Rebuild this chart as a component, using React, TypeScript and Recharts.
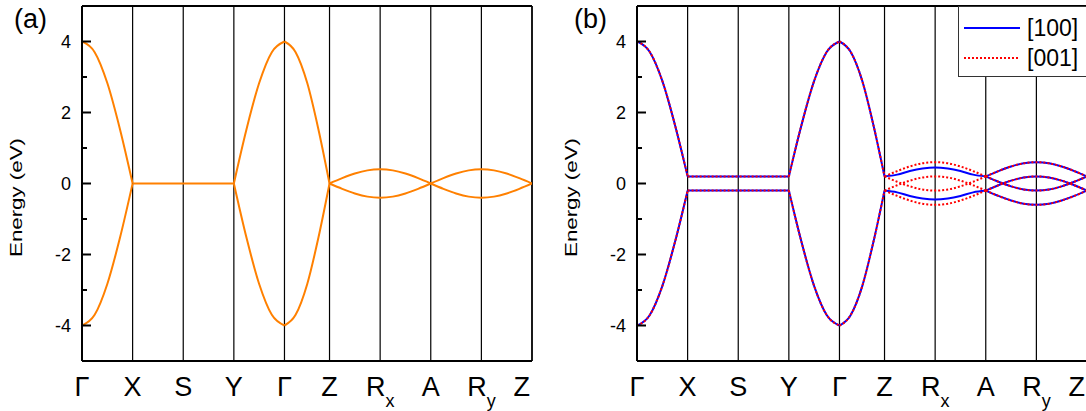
import { LineChart, Line, XAxis, YAxis, CartesianGrid, ReferenceLine, Legend } from "recharts";

// high-symmetry path
const kTicks = [0, 1, 2, 3, 4, 4.89, 5.89, 6.89, 7.89, 8.89];
const kLabels = ["Γ", "X", "S", "Y", "Γ", "Z", "Rx", "A", "Ry", "Z"];
const eTicks = [-4, -3, -2, -1, 0, 1, 2, 3, 4];

// k sampling per segment
const kGX = [0, 0.25, 0.5, 0.75, 1];
const kXSY = [1, 2, 3];
const kYG = [3, 3.25, 3.5, 3.75, 4];
const kGZ = [4, 4.22, 4.45, 4.67, 4.89];
const kZA = [4.89, 5.14, 5.39, 5.64, 5.89, 6.14, 6.39, 6.64, 6.89];
const kAZ = [6.89, 7.14, 7.39, 7.64, 7.89, 8.14, 8.39, 8.64, 8.89];

// (a) bands
const aUpGX = [4, 3.7, 2.83, 1.53, 0];
const aLoGX = [-4, -3.7, -2.83, -1.53, 0];
const aXSY = [0, 0, 0];
const aUpYG = [0, 1.53, 2.83, 3.7, 4];
const aLoYG = [0, -1.53, -2.83, -3.7, -4];
const aUpGZ = [4, 3.7, 2.83, 1.53, 0];
const aLoGZ = [-4, -3.7, -2.83, -1.53, 0];
const aUpZA = [0, 0.15, 0.28, 0.37, 0.4, 0.37, 0.28, 0.15, 0];
const aLoZA = [0, -0.15, -0.28, -0.37, -0.4, -0.37, -0.28, -0.15, 0];
const aUpAZ = [0, 0.15, 0.28, 0.37, 0.4, 0.37, 0.28, 0.15, 0];
const aLoAZ = [0, -0.15, -0.28, -0.37, -0.4, -0.37, -0.28, -0.15, 0];

// (b) bands, shared part
const bUpGX = [4, 3.71, 2.89, 1.65, 0.2];
const bLoGX = [-4, -3.71, -2.89, -1.65, -0.2];
const bUpXSY = [0.2, 0.2, 0.2];
const bLoXSY = [-0.2, -0.2, -0.2];
const bUpYG = [0.2, 1.65, 2.89, 3.71, 4];
const bLoYG = [-0.2, -1.65, -2.89, -3.71, -4];
const bUpGZ = [4, 3.71, 2.89, 1.65, 0.2];
const bLoGZ = [-4, -3.71, -2.89, -1.65, -0.2];
// [100] between Z and A
const b100UpZA = [0.2, 0.25, 0.35, 0.42, 0.45, 0.42, 0.35, 0.25, 0.2];
const b100LoZA = [-0.2, -0.25, -0.35, -0.42, -0.45, -0.42, -0.35, -0.25, -0.2];
// [001] between Z and A
const b001OutUpZA = [0.2, 0.35, 0.48, 0.57, 0.6, 0.57, 0.48, 0.35, 0.2];
const b001InUpZA = [-0.2, -0.05, 0.08, 0.17, 0.2, 0.17, 0.08, -0.05, -0.2];
const b001InLoZA = [0.2, 0.05, -0.08, -0.17, -0.2, -0.17, -0.08, 0.05, 0.2];
const b001OutLoZA = [-0.2, -0.35, -0.48, -0.57, -0.6, -0.57, -0.48, -0.35, -0.2];
// A -> Ry -> Z (same for both)
const bOutUpAZ = [0.2, 0.35, 0.48, 0.57, 0.6, 0.57, 0.48, 0.35, 0.2];
const bInUpAZ = [-0.2, -0.05, 0.08, 0.17, 0.2, 0.17, 0.08, -0.05, -0.2];
const bInLoAZ = [0.2, 0.05, -0.08, -0.17, -0.2, -0.17, -0.08, 0.05, 0.2];
const bOutLoAZ = [-0.2, -0.35, -0.48, -0.57, -0.6, -0.57, -0.48, -0.35, -0.2];

const seg = (k: number[], e: number[]) => k.map((kk, i) => ({ k: kk, e: e[i] }));

const ORANGE = "#ff8000";
const BLUE = "#0000ff";
const RED = "#ff0000";
const FONT = "'Liberation Sans', Arial, sans-serif";

type Band = { data: { k: number; e: number }[]; color: string; dash?: string };

const orange = (k: number[], e: number[]): Band => ({ data: seg(k, e), color: ORANGE });
const blue = (k: number[], e: number[]): Band => ({ data: seg(k, e), color: BLUE });
const red = (k: number[], e: number[]): Band => ({ data: seg(k, e), color: RED, dash: "2 2" });

const bandsA: Band[] = [
  orange(kGX, aUpGX), orange(kGX, aLoGX), orange(kXSY, aXSY),
  orange(kYG, aUpYG), orange(kYG, aLoYG), orange(kGZ, aUpGZ), orange(kGZ, aLoGZ),
  orange(kZA, aUpZA), orange(kZA, aLoZA), orange(kAZ, aUpAZ), orange(kAZ, aLoAZ),
];

const sharedB: [number[], number[]][] = [
  [kGX, bUpGX], [kGX, bLoGX], [kXSY, bUpXSY], [kXSY, bLoXSY],
  [kYG, bUpYG], [kYG, bLoYG], [kGZ, bUpGZ], [kGZ, bLoGZ],
  [kAZ, bOutUpAZ], [kAZ, bInUpAZ], [kAZ, bInLoAZ], [kAZ, bOutLoAZ],
];

const bandsB: Band[] = [
  ...sharedB.map(([k, e]) => blue(k, e)),
  blue(kZA, b100UpZA), blue(kZA, b100LoZA),
  ...sharedB.map(([k, e]) => red(k, e)),
  red(kZA, b001OutUpZA), red(kZA, b001InUpZA), red(kZA, b001InLoZA), red(kZA, b001OutLoZA),
];

const XTick = (props: any) => {
  const { x, y, payload } = props;
  const idx = kTicks.indexOf(payload.value);
  const lab = kLabels[idx] || "";
  const sub = lab.length > 1 ? lab.slice(1) : "";
  const last = idx === kTicks.length - 1;
  return (
    <text
      x={last ? x - 2 : x}
      y={y + 35}
      textAnchor={last ? "end" : "middle"}
      fontSize={27}
      fontFamily={FONT}
      fill="#000"
    >
      {lab[0]}
      {sub && (
        <tspan fontSize={18} dy={11}>
          {sub}
        </tspan>
      )}
    </text>
  );
};

const YTick = (props: any) => {
  const { x, y, payload } = props;
  const v = payload.value;
  const major = v % 2 === 0;
  return (
    <g>
      <line x1={x} x2={x + (major ? 9 : 5)} y1={y} y2={y} stroke="#000" strokeWidth={2} />
      {major && (
        <text x={x - 11} y={y + 6} textAnchor="end" fontSize={18} fontFamily={FONT} fill="#000">
          {`${v}`}
        </text>
      )}
    </g>
  );
};

const EnergyLabel = (props: any) => {
  const vb = props.viewBox || { x: 22, y: 6, width: 60, height: 355 };
  const cx = vb.x;
  const cy = vb.y + vb.height / 2 + 14;
  return (
    <text
      x={cx}
      y={cy}
      transform={`rotate(-90 ${cx} ${cy})`}
      textAnchor="middle"
      fontSize={17}
      textLength={119}
      lengthAdjust="spacingAndGlyphs"
      fontFamily={FONT}
      fill="#000"
    >
      Energy (eV)
    </text>
  );
};

const LegendBox = () => (
  <div style={{ width: 130, height: 71, border: "1px solid #333", background: "#fff", boxSizing: "border-box" }}>
    <svg width={130} height={71}>
      <line x1={5} x2={61} y1={21} y2={21} stroke={BLUE} strokeWidth={2} />
      <text x={68} y={29} fontSize={23} fontFamily={FONT} fill="#000">[100]</text>
      <line x1={5} x2={61} y1={51} y2={51} stroke={RED} strokeWidth={2} strokeDasharray="2 2" />
      <text x={68} y={59} fontSize={23} fontFamily={FONT} fill="#000">[001]</text>
    </svg>
  </div>
);

function BandPanel({ bands, legend }: { bands: Band[]; legend?: boolean }) {
  return (
    <LineChart width={540} height={411} margin={{ top: 6, right: 8, bottom: 0, left: 22 }}>
      <CartesianGrid horizontal={false} stroke="#000" strokeWidth={1.2} />
      <XAxis
        type="number"
        dataKey="k"
        domain={[0, 8.89]}
        ticks={kTicks}
        interval={0}
        tick={<XTick />}
        tickLine={false}
        tickSize={0}
        tickMargin={0}
        height={50}
        axisLine={{ stroke: "#000", strokeWidth: 2 }}
        allowDataOverflow
      />
      <YAxis
        type="number"
        domain={[-5, 5]}
        ticks={eTicks}
        interval={0}
        tick={<YTick />}
        tickLine={false}
        tickSize={0}
        tickMargin={0}
        width={60}
        axisLine={{ stroke: "#000", strokeWidth: 2 }}
        label={<EnergyLabel />}
        allowDataOverflow
      />
      <ReferenceLine y={5} stroke="#000" strokeWidth={2} />
      <ReferenceLine x={8.89} stroke="#000" strokeWidth={1.5} />
      {bands.map((b, i) => (
        <Line
          key={i}
          data={b.data}
          dataKey="e"
          type="monotone"
          stroke={b.color}
          strokeWidth={2}
          strokeDasharray={b.dash}
          dot={false}
          activeDot={false}
          isAnimationActive={false}
        />
      ))}
      {legend && (
        <Legend
          layout="horizontal"
          verticalAlign="middle"
          align="center"
          content={() => <LegendBox />}
          wrapperStyle={{ position: "absolute", left: 403, top: 6, width: 130, height: 71 }}
        />
      )}
    </LineChart>
  );
}

export default function App() {
  return (
    <div style={{ position: "absolute", left: 0, top: 0, width: 1086, height: 411, overflow: "hidden", background: "#fff" }}>
      <div style={{ position: "absolute", left: 0, top: 0 }}>
        <BandPanel bands={bandsA} />
      </div>
      <div style={{ position: "absolute", left: 555, top: 0 }}>
        <BandPanel bands={bandsB} legend />
      </div>
      <svg width={1086} height={411} style={{ position: "absolute", left: 0, top: 0, pointerEvents: "none" }}>
        <text x={14} y={28} fontSize={27} fontFamily={FONT} fill="#000">(a)</text>
        <text x={574} y={28} fontSize={27} fontFamily={FONT} fill="#000">(b)</text>
      </svg>
    </div>
  );
}
